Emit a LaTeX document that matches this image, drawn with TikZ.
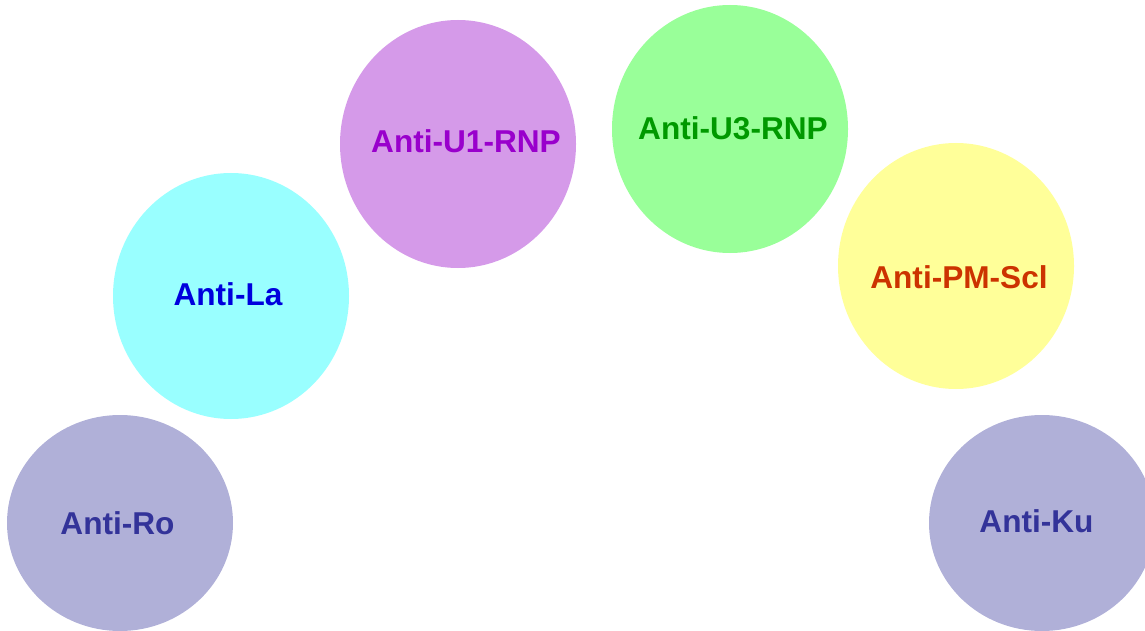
\documentclass[tikz,border=0pt]{standalone}
\usepackage{fontspec}
\setmainfont{Liberation Sans}
\usetikzlibrary{shapes.geometric}
\definecolor{rofill}{HTML}{B0B0D8}
\definecolor{rotext}{HTML}{333399}
\definecolor{lafill}{HTML}{99FFFF}
\definecolor{latext}{HTML}{0000DD}
\definecolor{u1fill}{HTML}{D59AE9}
\definecolor{u1text}{HTML}{9900CC}
\definecolor{u3fill}{HTML}{99FF99}
\definecolor{u3text}{HTML}{009900}
\definecolor{pmfill}{HTML}{FFFF99}
\definecolor{pmtext}{HTML}{CC3300}
\tikzset{
  blob/.style={ellipse, draw=none, inner sep=0pt},
  lbl/.style={inner sep=0pt, font=\fontsize{31.6}{32}\selectfont\bfseries}
}
\begin{document}
\begin{tikzpicture}[x=1pt,y=-1pt]
\useasboundingbox (0,0) rectangle (1145,631);
\node[blob, fill=rofill, minimum width=226pt, minimum height=216pt] (ro) at (120,523) {};
\node[blob, fill=lafill, minimum width=236pt, minimum height=246pt] (la) at (231,296) {};
\node[blob, fill=u1fill, minimum width=236pt, minimum height=248pt] (u1) at (458,144) {};
\node[blob, fill=u3fill, minimum width=236pt, minimum height=248pt] (u3) at (730,129) {};
\node[blob, fill=pmfill, minimum width=236pt, minimum height=246pt] (pm) at (956,266) {};
\node[blob, fill=rofill, minimum width=226pt, minimum height=216pt] (ku) at (1042,523) {};
\node[lbl, text=rotext] (rot) at (117.5,523) {Anti-Ro};
\node[lbl, text=latext] (lat) at (228,294) {Anti-La};
\node[lbl, text=u1text] (u1t) at (466,141.5) {Anti-U1-RNP};
\node[lbl, text=u3text] (u3t) at (733,128) {Anti-U3-RNP};
\node[lbl, text=pmtext] (pmt) at (959,277.5) {Anti-PM-Scl};
\node[lbl, text=rotext] (kut) at (1036.5,521) {Anti-Ku};
\end{tikzpicture}
\end{document}
